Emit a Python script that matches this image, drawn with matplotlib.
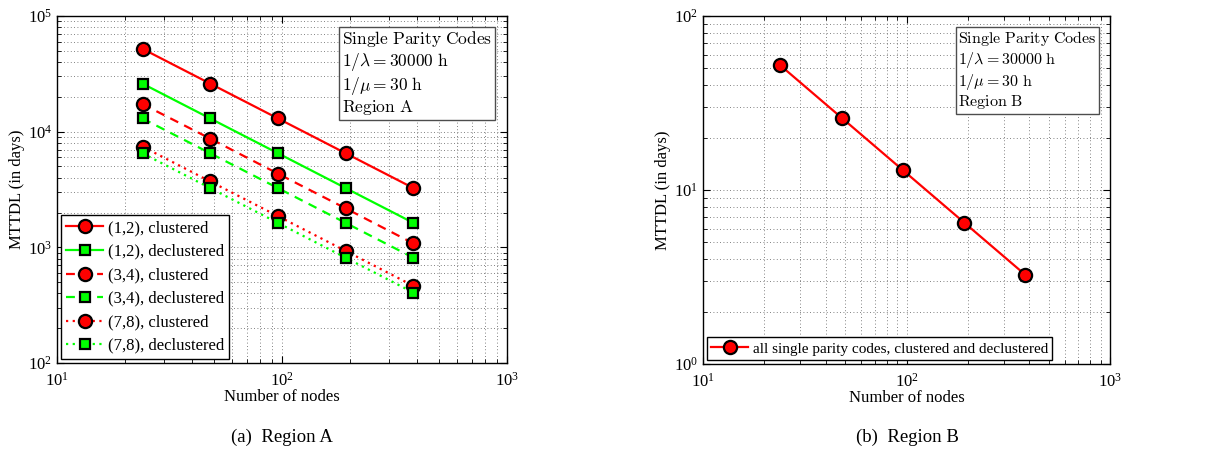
import matplotlib
matplotlib.use("Agg")
import matplotlib.pyplot as plt

plt.rcParams['font.family'] = ['Liberation Serif', 'DejaVu Serif']
plt.rcParams['mathtext.fontset'] = 'cm'

# data
nodes = [24, 48, 96, 192, 384]
mttdl_12_cl = [52000, 26000, 13000, 6500, 3250]
mttdl_12_dc = [26000, 13000, 6500, 3250, 1625]
mttdl_34_cl = [17300, 8700, 4330, 2170, 1080]
mttdl_34_dc = [13000, 6500, 3250, 1625, 812]
mttdl_78_cl = [7430, 3710, 1860, 930, 464]
mttdl_78_dc = [6500, 3250, 1625, 812, 406]
mttdl_region_b = [52, 26, 13, 6.5, 3.25]

RED = '#ff0000'
GREEN = '#00ff00'
FS = 12

fig = plt.figure(figsize=(12.26, 4.55), dpi=100)
ax1 = fig.add_axes([57 / 1226, 92 / 455, 450 / 1226, 347 / 455])
ax2 = fig.add_axes([703 / 1226, 91 / 455, 407 / 1226, 348 / 455])


def style_axes(ax, ylim):
    ax.set_xscale('log')
    ax.set_yscale('log')
    ax.set_xlim(10, 1000)
    ax.set_ylim(*ylim)
    ax.grid(True, which='both', linestyle=(0, (1, 3)), color='0.35', linewidth=0.6)
    ax.tick_params(which='both', direction='in', top=True, right=True, labelsize=FS)
    ax.tick_params(which='major', length=5)
    ax.tick_params(which='minor', length=3)
    ax.tick_params(axis='x', pad=6)
    for s in ax.spines.values():
        s.set_linewidth(1.0)
    ax.set_xlabel('Number of nodes', fontsize=FS, labelpad=0)
    ax.set_ylabel('MTTDL (in days)', fontsize=FS, labelpad=2)


series = [
    (mttdl_12_cl, RED, 'o', '-', '(1,2), clustered'),
    (mttdl_12_dc, GREEN, 's', '-', '(1,2), declustered'),
    (mttdl_34_cl, RED, 'o', (0, (4, 3)), '(3,4), clustered'),
    (mttdl_34_dc, GREEN, 's', (0, (4, 3)), '(3,4), declustered'),
    (mttdl_78_cl, RED, 'o', (0, (1, 2)), '(7,8), clustered'),
    (mttdl_78_dc, GREEN, 's', (0, (1, 2)), '(7,8), declustered'),
]
for vals, col, mk, ls, lab in series:
    ax1.plot(nodes, vals, color=col, linestyle=ls, linewidth=1.6,
             marker=mk, markersize=9.5 if mk == 'o' else 7.5,
             markerfacecolor=col, markeredgecolor='black', markeredgewidth=1.6,
             label=lab, zorder=3)

style_axes(ax1, (1e2, 1e5))
leg = ax1.legend(loc='lower left', fontsize=FS, frameon=True, fancybox=False,
                 edgecolor='black', framealpha=1, handlelength=2.2,
                 handletextpad=0.3, borderpad=0.3, labelspacing=0.45,
                 borderaxespad=0.25)
leg.get_frame().set_linewidth(1.0)

ax2.plot(nodes, mttdl_region_b, color=RED, linewidth=1.6, marker='o', markersize=9.5,
         markerfacecolor=RED, markeredgecolor='black', markeredgewidth=1.6,
         label='all single parity codes, clustered and declustered', zorder=3)
style_axes(ax2, (1, 1e2))
leg2 = ax2.legend(loc='lower left', fontsize=FS - 1, frameon=True, fancybox=False,
                  edgecolor='black', framealpha=1, handlelength=2.4,
                  handletextpad=0.3, borderpad=0.3, borderaxespad=0.25)
leg2.get_frame().set_linewidth(1.0)

box_kw = dict(boxstyle='square,pad=0.15', fc='white', ec='0.3', lw=1.0)
for ax, region, fs in [(ax1, 'A', FS + 0.5), (ax2, 'B', FS - 0.5)]:
    txt = ('$\\mathrm{Single\\ Parity\\ Codes}$\n'
           '$1/\\lambda = 30000\\ \\mathrm{h}$\n'
           '$1/\\mu = 30\\ \\mathrm{h}$\n'
           '$\\mathrm{Region\\ ' + region + '}$')
    ax.text(0.967, 0.962, txt, transform=ax.transAxes, ha='right', va='top',
            multialignment='left', fontsize=fs, linespacing=1.12,
            bbox=box_kw, zorder=5)

fig.text(282 / 1226, 1 - 437 / 455, '(a)  Region A', ha='center', va='center', fontsize=FS + 1.5)
fig.text(907 / 1226, 1 - 437 / 455, '(b)  Region B', ha='center', va='center', fontsize=FS + 1.5)

fig.savefig('out.png', dpi=100)
